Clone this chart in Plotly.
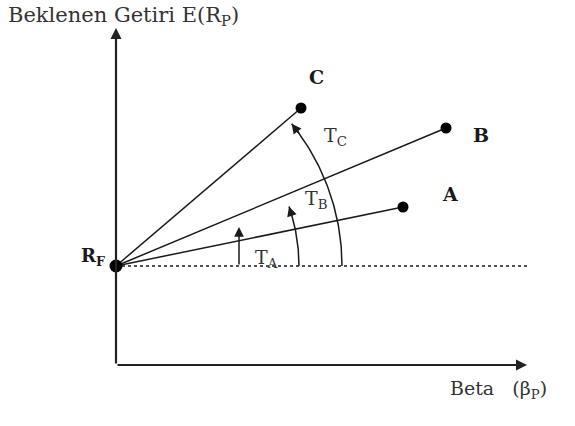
import numpy as np
import plotly.graph_objects as go

# ---- data (diagram units: beta on x, expected return on y) ----
rf_beta = 0.0
rf_return = 0.99
portfolios = ["A", "B", "C"]
port_beta = [2.87, 3.30, 1.85]
port_return = [1.58, 2.37, 2.57]
angle_labels = ["T<sub>A</sub>", "T<sub>B</sub>", "T<sub>C</sub>"]

x_axis_end = 4.11
y_axis_end = 3.37

FONT = "DejaVu Serif, Liberation Serif, serif"
INK = "#1a1a1a"

fig = go.Figure()

# lines from RF to each portfolio
for b, r in zip(port_beta, port_return):
    fig.add_trace(go.Scatter(x=[rf_beta, b], y=[rf_return, r], mode="lines",
                             line=dict(color=INK, width=1.5), hoverinfo="skip"))

# dotted horizontal at RF
fig.add_trace(go.Scatter(x=[rf_beta, x_axis_end], y=[rf_return, rf_return], mode="lines",
                         line=dict(color=INK, width=1.5, dash="dot"), hoverinfo="skip"))

# angle arcs (T_B, T_C)
arcs = [(1.83, 19.0), (2.26, 39.0)]
for rad, ang in arcs:
    t = np.radians(np.linspace(0, ang, 60))
    fig.add_trace(go.Scatter(x=rf_beta + rad * np.cos(t), y=rf_return + rad * np.sin(t),
                             mode="lines", line=dict(color=INK, width=1.5), hoverinfo="skip"))
    te = np.radians(ang)
    tb = np.radians(ang - 3.5)
    fig.add_annotation(x=rf_beta + rad * np.cos(te), y=rf_return + rad * np.sin(te),
                       ax=rf_beta + rad * np.cos(tb), ay=rf_return + rad * np.sin(tb),
                       xref="x", yref="y", axref="x", ayref="y", text="",
                       showarrow=True, arrowhead=2, arrowsize=1.3, arrowwidth=1.5,
                       arrowcolor=INK, standoff=0, startstandoff=0)

# T_A vertical arrow
fig.add_annotation(x=1.23, y=1.38, ax=1.23, ay=rf_return, xref="x", yref="y",
                   axref="x", ayref="y", text="", showarrow=True, arrowhead=2,
                   arrowsize=1.3, arrowwidth=1.5, arrowcolor=INK, standoff=0)

# axes with arrows
fig.add_annotation(x=0, y=y_axis_end, ax=0, ay=0, xref="x", yref="y", axref="x", ayref="y",
                   text="", showarrow=True, arrowhead=2, arrowsize=1, arrowwidth=2.2,
                   arrowcolor="#222", standoff=0)
fig.add_annotation(x=x_axis_end, y=0, ax=0, ay=0, xref="x", yref="y", axref="x", ayref="y",
                   text="", showarrow=True, arrowhead=2, arrowsize=1, arrowwidth=2.2,
                   arrowcolor="#222", standoff=0)

# points
fig.add_trace(go.Scatter(x=port_beta, y=port_return, mode="markers",
                         marker=dict(color="black", size=11), hoverinfo="skip"))
fig.add_trace(go.Scatter(x=[rf_beta], y=[rf_return], mode="markers",
                         marker=dict(color="black", size=13), hoverinfo="skip"))

# point labels
label_shift = {"A": (47, 13), "B": (35, -7), "C": (15, 31)}
for name, b, r in zip(portfolios, port_beta, port_return):
    dx, dy = label_shift[name]
    fig.add_annotation(x=b, y=r, xshift=dx, yshift=dy, text=f"<b>{name}</b>",
                       showarrow=False, font=dict(family=FONT, size=19, color=INK))
fig.add_annotation(x=rf_beta, y=rf_return, xshift=-23, yshift=9, text="<b>R<sub>F</sub></b>",
                   showarrow=False, font=dict(family=FONT, size=18, color=INK))

# angle labels
ang_pos = [(1.50, 1.07), (2.00, 1.66), (2.19, 2.29)]
for lab, (lx, ly) in zip(angle_labels, ang_pos):
    fig.add_annotation(x=lx, y=ly, text=lab, showarrow=False,
                       font=dict(family=FONT, size=19, color="#333"))

# axis titles
fig.add_annotation(x=0, y=1, xref="paper", yref="paper", xanchor="left", yanchor="top",
                   xshift=6, yshift=-1, text="Beklenen Getiri E(R<sub>P</sub>)", showarrow=False,
                   font=dict(family=FONT, size=21, color="#333"))
fig.add_annotation(x=x_axis_end, y=0, xanchor="left", yshift=-24, xshift=-79,
                   text="Beta   (β<sub>P</sub>)", showarrow=False,
                   font=dict(family=FONT, size=19, color="#333"))

fig.update_layout(width=575, height=426, margin=dict(l=0, r=0, t=0, b=0),
                  paper_bgcolor="white", plot_bgcolor="white", showlegend=False,
                  xaxis=dict(range=[-1.16, 4.59], visible=False, fixedrange=True),
                  yaxis=dict(range=[-0.61, 3.65], visible=False, fixedrange=True))

fig.write_html("out.html", config={"displayModeBar": False},
               post_script="document.body.style.margin='0px';")
